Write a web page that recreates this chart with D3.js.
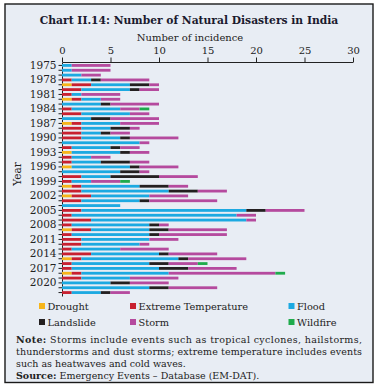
<!DOCTYPE html>
<html><head><meta charset="utf-8">
<script src="https://cdn.jsdelivr.net/npm/d3@7"></script>
<style>html,body{margin:0;padding:0;background:#fff}svg{display:block}</style>
</head><body>
<svg id="c" width="378" height="387"></svg>
<script>
const years = d3.range(1975, 2023);
const drought   = [0,0,0,0,1,0,0,1,0,0,0,0,1,0,0,0,0,0,1,0,0,1,0,0,0,1,0,1,0,0,0,0,0,0,1,0,0,0,0,0,1,0,0,1,0,0,0,0];
const extremeT  = [0,0,0,1,2,2,1,1,0,1,2,0,1,2,2,2,0,1,0,1,1,0,0,2,1,1,2,2,2,0,2,1,3,1,2,1,2,2,1,3,1,1,1,1,2,0,0,1];
const flood     = [1,1,2,2,4,5,1,2,4,5,5,3,4,3,2,4,8,4,5,2,3,6,6,3,2,6,9,6,6,6,17,17,16,8,6,8,7,6,5,7,10,8,9,9,5,5,9,3];
const landslide = [0,0,0,1,2,1,0,0,1,0,0,2,0,2,1,1,0,1,1,0,3,1,2,5,0,3,3,0,1,0,2,0,0,1,2,1,0,0,0,1,1,2,3,0,0,2,2,1];
const storm     = [4,4,2,5,1,2,4,2,5,2,2,5,4,1,2,5,1,2,2,2,2,4,1,4,3,2,3,4,7,0,4,2,1,1,6,7,3,1,5,5,6,3,5,11,5,4,5,2];
const wildfire  = [0,0,0,0,0,0,0,0,0,1,0,0,0,0,0,0,0,0,0,0,0,0,0,0,1,0,0,0,0,0,0,0,0,0,0,0,0,0,0,0,0,1,0,1,0,0,0,0];
const seriesNames = ["Drought","Extreme Temperature","Flood","Landslide","Storm","Wildfire"];
const seriesColors = ["#f7b519","#c8202f","#1ca9e1","#231f20","#b54a9e","#1fab4c"];
const xTicks = [0,5,10,15,20,25,30];
const yLabelYears = d3.range(1975, 2021, 3);

const svg = d3.select("#c");
const font = "DejaVu Serif";
svg.append("rect").attr("x",0).attr("y",0).attr("width",378).attr("height",387).attr("fill","#fff");
svg.append("rect").attr("x",5).attr("y",4).attr("width",368).attr("height",378.5)
  .attr("fill","#e8edf4").attr("stroke","#1a1a1a").attr("stroke-width",1.4);

// title
const title = svg.append("text").attr("x",189).attr("y",24).attr("text-anchor","middle")
  .attr("font-family",font).attr("font-weight","bold").attr("font-size",11).attr("fill","#1a1a2e")
  .text("Chart II.14: Number of Natural Disasters in India");
{ const w = title.node().getComputedTextLength(); title.attr("font-size", 11*299/w); }

svg.append("text").attr("x",190).attr("y",41).attr("text-anchor","middle")
  .attr("font-family",font).attr("font-size",10).attr("fill","#222").text("Number of incidence");

const rows = years.map((y,i)=>({year:y, Drought:drought[i], "Extreme Temperature":extremeT[i], Flood:flood[i],
  Landslide:landslide[i], Storm:storm[i], Wildfire:wildfire[i]}));
const stacked = d3.stack().keys(seriesNames)(rows);

const x = d3.scaleLinear().domain([0,30]).range([62,353]);
const y = d3.scaleBand().domain(years).range([62,296]).padding(0.42);

const gx = svg.append("g").attr("transform","translate(0,62)").call(d3.axisTop(x).tickValues(xTicks).tickSize(4.5).tickSizeOuter(0).tickPadding(4));
gx.select(".domain").attr("stroke","#222").attr("stroke-width",1);
gx.selectAll(".tick line").attr("stroke","#222");
gx.selectAll("text").attr("font-family",font).attr("font-size",10).attr("fill","#222");

const gy = svg.append("g").attr("transform","translate(62,0)").call(d3.axisLeft(y).tickSize(3.5).tickSizeOuter(0).tickPadding(2)
  .tickFormat(d => yLabelYears.includes(d) ? d : ""));
gy.select(".domain").attr("stroke","#222").attr("stroke-width",1);
gy.selectAll(".tick line").attr("stroke","#222");
gy.selectAll("text").attr("font-family",font).attr("font-size",10.5).attr("fill","#222");

svg.append("text").attr("transform","translate(21,174) rotate(-90)").attr("text-anchor","middle")
  .attr("font-family",font).attr("font-size",10.5).attr("fill","#222").text("Year");

svg.append("g").selectAll("g").data(stacked).join("g").attr("fill",(d,i)=>seriesColors[i])
  .selectAll("rect").data(d=>d).join("rect")
  .attr("x",d=>x(d[0])).attr("width",d=>x(d[1])-x(d[0]))
  .attr("y",d=>y(d.data.year)).attr("height",y.bandwidth());

// legend
const legPos = [[39,303],[130,303],[288.5,303],[39,319],[130,319],[288.5,319]];
const leg = svg.append("g");
seriesNames.forEach((n,i)=>{
  leg.append("rect").attr("x",legPos[i][0]).attr("y",legPos[i][1]).attr("width",6).attr("height",6).attr("fill",seriesColors[i]);
  leg.append("text").attr("x",legPos[i][0]+8.5).attr("y",legPos[i][1]+6.5).attr("font-family",font).attr("font-size",9.8)
    .attr("fill","#222").text(n);
});

// notes
function noteLine(yy, parts, justify){
  const t = svg.append("text").attr("x",16).attr("y",yy).attr("font-family",font).attr("font-size",9.5).attr("fill","#222");
  parts.forEach(p=>t.append("tspan").attr("font-weight",p[1]?"bold":"normal").text(p[0]));
  if(justify){ t.attr("textLength",346).attr("lengthAdjust","spacing"); }
  return t;
}
noteLine(343,[["Note:",true],[" Storms include events such as tropical cyclones, hailstorms,",false]],true);
noteLine(355,[["thunderstorms and dust storms; extreme temperature includes events",false]],true);
noteLine(367,[["such as heatwaves and cold waves.",false]],false);
noteLine(378.5,[["Source:",true],[" Emergency Events – Database (EM-DAT).",false]],false);
</script>
</body></html>
